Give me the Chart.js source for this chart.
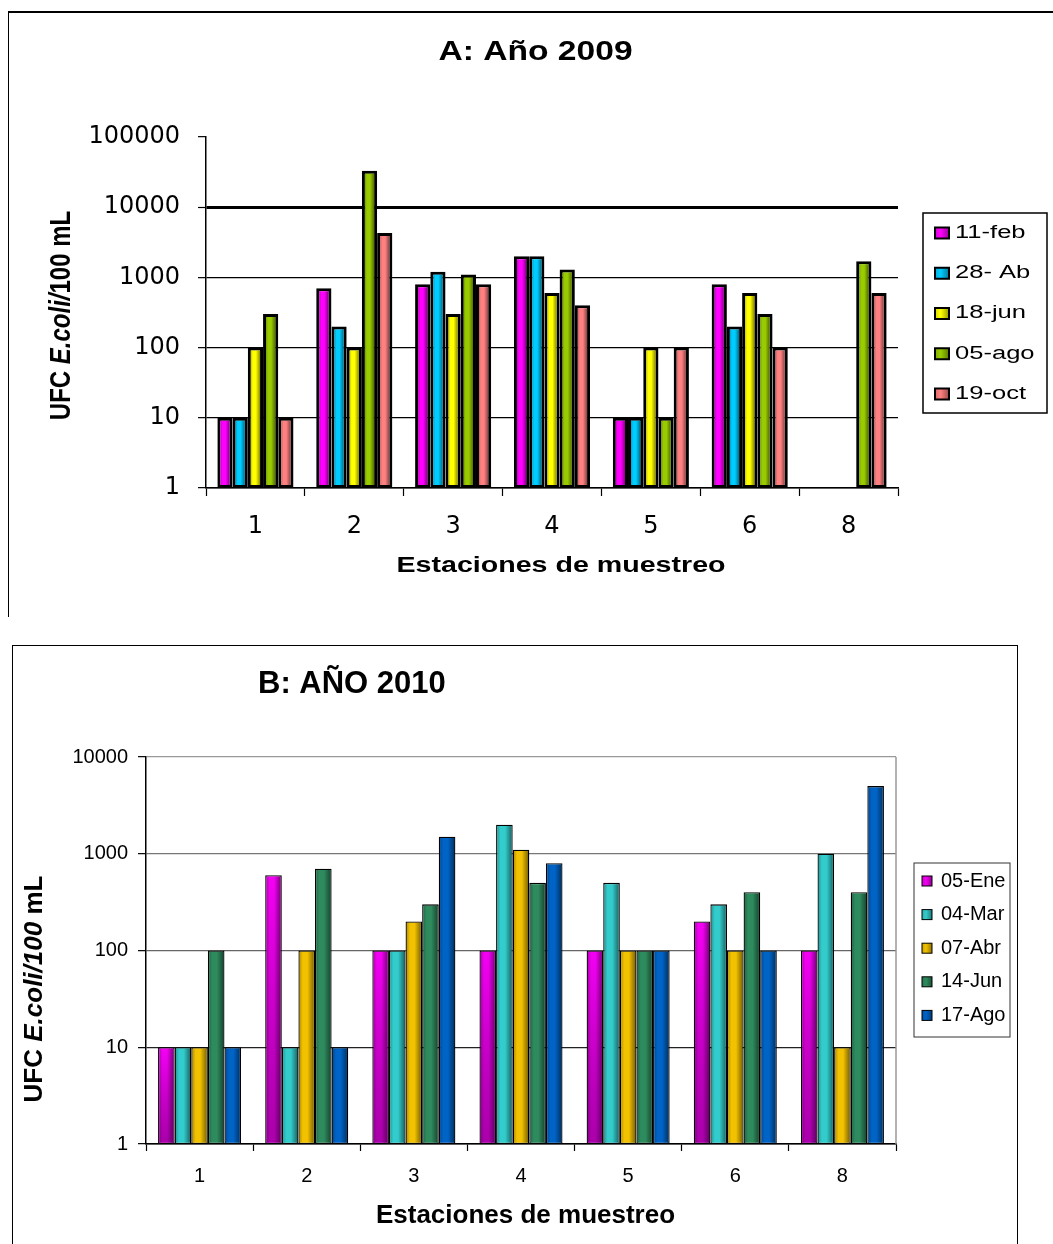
<!DOCTYPE html>
<html>
<head>
<meta charset="utf-8">
<script src="https://cdn.jsdelivr.net/npm/chart.js@4/dist/chart.umd.min.js"></script>
<style>
  html, body { margin: 0; padding: 0; background: #fff; }
  body { width: 1053px; height: 1244px; position: relative; overflow: hidden; }
  .frameA { position: absolute; left: 8px; top: 11px; width: 1045px; height: 606px;
            border-top: 2px solid #000; border-left: 1px solid #000; box-sizing: border-box; }
  .frameB { position: absolute; left: 12px; top: 645px; width: 1006px; height: 640px;
            border: 1px solid #000; box-sizing: border-box; }
  canvas { position: absolute; left: 0; }
  #chartA { top: 0; }
  #chartB { top: 620px; }
</style>
</head>
<body>
<div class="frameA"></div>
<div class="frameB"></div>
<canvas id="chartA" width="1053" height="620"></canvas>
<canvas id="chartB" width="1053" height="624"></canvas>
<script>
// Sampling stations (x categories) shared by both years
const stations = ['1', '2', '3', '4', '5', '6', '8'];

// Decade ticks of the logarithmic axes
const yTicks2009 = [1, 10, 100, 1000, 10000, 100000];
const yTicks2010 = [1, 10, 100, 1000, 10000];

// 2009 campaign: UFC E. coli / 100 mL per station
const labels2009 = ['11-feb', '28- Ab', '18-jun', '05-ago', '19-oct'];
const feb11_2009 = [10, 700, 800, 2000, 10, 800, null];
const abr28_2009 = [10, 200, 1200, 2000, 10, 200, null];
const jun18_2009 = [100, 100, 300, 600, 100, 600, null];
const ago05_2009 = [300, 33000, 1100, 1300, 10, 300, 1700];
const oct19_2009 = [10, 4300, 800, 400, 100, 100, 600];
const colors2009 = ['#FF00FF', '#00CCFF', '#FFFF00', '#99CC00', '#FF8080'];

// 2010 campaign
const labels2010 = ['05-Ene', '04-Mar', '07-Abr', '14-Jun', '17-Ago'];
const ene05_2010 = [10, 600, 100, 100, 100, 200, 100];
const mar04_2010 = [10, 10, 100, 2000, 500, 300, 1000];
const abr07_2010 = [10, 100, 200, 1100, 100, 100, 10];
const jun14_2010 = [100, 700, 300, 500, 100, 400, 400];
const ago17_2010 = [10, 10, 1500, 800, 100, 100, 5000];
const colors2010 = ['#F400F4', '#33CCCC', '#F2C200', '#2E8B5E', '#0063C6'];

Chart.defaults.font.family = "'Liberation Sans', Arial, sans-serif";
Chart.defaults.color = '#000';

// Draws a run of differently styled text pieces as one line
function drawRich(ctx, parts, cx, cy, o) {
  const opt = Object.assign({ align: 'center', rotate: 0, sx: 1, sy: 1, color: '#000' }, o || {});
  ctx.save();
  ctx.translate(cx, cy);
  ctx.rotate(opt.rotate);
  ctx.scale(opt.sx, opt.sy);
  ctx.textBaseline = 'middle';
  ctx.textAlign = 'left';
  ctx.fillStyle = opt.color;
  let total = 0;
  const widths = parts.map(p => { ctx.font = p.font; const w = ctx.measureText(p.text).width; total += w; return w; });
  let x = opt.align === 'center' ? -total / 2 : (opt.align === 'right' ? -total : 0);
  parts.forEach((p, k) => { ctx.font = p.font; ctx.fillText(p.text, x, 0); x += widths[k]; });
  ctx.restore();
}

// Cylinder-like shading over each bar, plus titles and the framed legend
const decorations = {
  id: 'decorations',
  afterDatasetsDraw(chart, args, o) {
    const ctx = chart.ctx;
    ctx.save();
    chart.data.datasets.forEach((ds, di) => {
      const meta = chart.getDatasetMeta(di);
      meta.data.forEach((el, i) => {
        if (ds.data[i] == null) return;
        const p = el.getProps(['x', 'y', 'base', 'width'], true);
        const bw = o.inset;
        const left = p.x - p.width / 2 + bw, right = p.x + p.width / 2 - bw;
        const top = Math.min(p.y, p.base) + bw, bottom = Math.max(p.y, p.base) - bw;
        if (right <= left || bottom <= top) return;
        const g = ctx.createLinearGradient(left, 0, right, 0);
        g.addColorStop(0, 'rgba(0,0,0,0.22)');
        g.addColorStop(0.22, 'rgba(0,0,0,0)');
        g.addColorStop(0.55, 'rgba(0,0,0,0)');
        g.addColorStop(1, 'rgba(0,0,0,0.45)');
        ctx.fillStyle = g;
        ctx.fillRect(left, top, right - left, bottom - top);
        if (o.verticalShade && o.verticalShade.indexOf(di) >= 0) {
          const v = ctx.createLinearGradient(0, top, 0, bottom);
          v.addColorStop(0, 'rgba(0,0,0,0)');
          v.addColorStop(1, 'rgba(60,0,60,0.4)');
          ctx.fillStyle = v;
          ctx.fillRect(left, top, right - left, bottom - top);
        }
      });
    });
    ctx.restore();
  },
  afterDraw(chart, args, o) {
    const ctx = chart.ctx;
    const area = chart.chartArea;
    if (o.plotFrame) {
      ctx.save();
      ctx.strokeStyle = o.plotFrame;
      ctx.lineWidth = 1.5;
      ctx.beginPath();
      ctx.moveTo(area.right, area.top);
      ctx.lineTo(area.right, area.bottom);
      ctx.stroke();
      ctx.restore();
    }
    // chart title
    const t = o.title;
    drawRich(ctx, [{ text: t.text, font: t.font }], t.x, t.y, { align: t.align, sx: t.sx });
    // axis titles
    const xt = o.xTitle;
    drawRich(ctx, [{ text: xt.text, font: xt.font }], xt.x, xt.y, { sx: xt.sx });
    const yt = o.yTitle;
    drawRich(ctx, yt.parts, yt.x, yt.y, { rotate: -Math.PI / 2, sy: yt.sy });
    // legend
    const L = o.legend;
    ctx.save();
    ctx.fillStyle = '#fff';
    ctx.fillRect(L.x, L.y, L.w, L.h);
    ctx.strokeStyle = L.border;
    ctx.lineWidth = L.lineWidth;
    ctx.strokeRect(L.x, L.y, L.w, L.h);
    chart.data.datasets.forEach((ds, i) => {
      const cy = L.firstRow + i * L.step;
      const sx0 = L.swatchX, sy0 = cy - L.swatchH / 2;
      ctx.fillStyle = ds.backgroundColor;
      ctx.fillRect(sx0, sy0, L.swatchW, L.swatchH);
      const g = ctx.createLinearGradient(sx0, 0, sx0 + L.swatchW, 0);
      g.addColorStop(0, 'rgba(0,0,0,0.15)');
      g.addColorStop(0.4, 'rgba(0,0,0,0)');
      g.addColorStop(1, 'rgba(0,0,0,0.4)');
      ctx.fillStyle = g;
      ctx.fillRect(sx0, sy0, L.swatchW, L.swatchH);
      ctx.strokeStyle = '#000';
      ctx.lineWidth = L.swatchBorder;
      ctx.strokeRect(sx0, sy0, L.swatchW, L.swatchH);
      drawRich(ctx, [{ text: ds.label, font: L.font }], L.textX, cy, { align: 'left', sx: L.sx });
    });
    ctx.restore();
  }
};

function buildChart(id, cfg) {
  const datasets = cfg.series.map(s => ({
    label: s.label,
    data: s.data,
    backgroundColor: s.color,
    borderColor: '#000',
    borderWidth: cfg.barBorder,
    borderSkipped: false,
    categoryPercentage: cfg.catPct,
    barPercentage: 1
  }));
  return new Chart(document.getElementById(id), {
    type: 'bar',
    data: { labels: stations, datasets },
    plugins: [decorations],
    options: {
      responsive: false,
      animation: false,
      layout: { padding: cfg.padding },
      plugins: {
        legend: { display: false },
        title: { display: false },
        tooltip: { enabled: false },
        decorations: cfg.deco
      },
      scales: {
        x: {
          type: 'category',
          offset: true,
          grid: { display: true, offset: true, drawOnChartArea: false, drawTicks: true,
                  tickLength: cfg.xTickLen, tickColor: '#000', tickWidth: 1.2 },
          border: { display: true, color: '#000', width: 1.5 },
          ticks: { color: '#000', font: cfg.tickFont, padding: cfg.xPad },
          afterFit: s => { s.height = cfg.xHeight; }
        },
        y: {
          type: 'logarithmic',
          min: cfg.yTicks[0],
          max: cfg.yTicks[cfg.yTicks.length - 1],
          afterBuildTicks: s => { s.ticks = cfg.yTicks.map(v => ({ value: v })); },
          ticks: { color: '#000', font: cfg.tickFont, padding: cfg.yPad, callback: v => String(v) },
          grid: {
            color: c => cfg.gridColor(c.tick ? c.tick.value : 0),
            lineWidth: c => cfg.gridWidth(c.tick ? c.tick.value : 0),
            drawTicks: true, tickLength: 8, tickColor: '#000', tickWidth: 1.2
          },
          border: { display: true, color: '#000', width: 1.5 },
          afterFit: s => { s.width = cfg.yWidth; }
        }
      }
    }
  });
}

// A: 2009
buildChart('chartA', {
  series: [
    { label: labels2009[0], data: feb11_2009, color: colors2009[0] },
    { label: labels2009[1], data: abr28_2009, color: colors2009[1] },
    { label: labels2009[2], data: jun18_2009, color: colors2009[2] },
    { label: labels2009[3], data: ago05_2009, color: colors2009[3] },
    { label: labels2009[4], data: oct19_2009, color: colors2009[4] }
  ],
  yTicks: yTicks2009,
  barBorder: 3,
  catPct: 0.77,
  padding: { top: 137, right: 155, bottom: 72, left: 0 },
  yWidth: 206,
  xHeight: 60,
  xTickLen: 8,
  xPad: 16,
  yPad: 18,
  tickFont: { family: "'DejaVu Sans', sans-serif", size: 24 },
  gridColor: v => (v === 100000 ? 'rgba(0,0,0,0)' : '#000'),
  gridWidth: v => (v === 10000 ? 3 : 1.3),
  deco: {
    inset: 3,
    title: { text: 'A: Año 2009', font: "bold 28px 'Liberation Sans'", x: 535.5, y: 52, align: 'center', sx: 1.2 },
    xTitle: { text: 'Estaciones de muestreo', font: "bold 22px 'Liberation Sans'", x: 561, y: 566, sx: 1.3 },
    yTitle: {
      parts: [
        { text: 'UFC ', font: "bold 24px 'Liberation Sans'" },
        { text: 'E.coli/', font: "italic bold 24px 'Liberation Sans'" },
        { text: '100 mL', font: "bold 24px 'Liberation Sans'" }
      ],
      x: 62, y: 315.5, sy: 1.2
    },
    legend: {
      x: 923, y: 213, w: 124, h: 200, border: '#000', lineWidth: 1.5,
      firstRow: 233, step: 40.25,
      swatchX: 935, swatchW: 14, swatchH: 11, swatchBorder: 2,
      textX: 955, font: "18px 'Liberation Sans'", sx: 1.42
    }
  }
});

// B: 2010
buildChart('chartB', {
  series: [
    { label: labels2010[0], data: ene05_2010, color: colors2010[0] },
    { label: labels2010[1], data: mar04_2010, color: colors2010[1] },
    { label: labels2010[2], data: abr07_2010, color: colors2010[2] },
    { label: labels2010[3], data: jun14_2010, color: colors2010[3] },
    { label: labels2010[4], data: ago17_2010, color: colors2010[4] }
  ],
  yTicks: yTicks2010,
  barBorder: 1.3,
  catPct: 0.775,
  padding: { top: 137, right: 157, bottom: 50, left: 0 },
  yWidth: 146,
  xHeight: 50,
  xTickLen: 7,
  xPad: 13,
  yPad: 10,
  tickFont: { family: "'Liberation Sans', sans-serif", size: 20 },
  gridColor: v => ({ 10000: '#999', 1000: '#777', 100: '#666', 10: '#222' }[v] || '#000'),
  gridWidth: v => 1.3,
  deco: {
    inset: 1.3,
    verticalShade: [0],
    plotFrame: '#999',
    title: { text: 'B: AÑO 2010', font: "bold 31px 'Liberation Sans'", x: 258, y: 64, align: 'left', sx: 1 },
    xTitle: { text: 'Estaciones de muestreo', font: "bold 26px 'Liberation Sans'", x: 525.5, y: 596, sx: 1 },
    yTitle: {
      parts: [
        { text: 'UFC ', font: "bold 26px 'Liberation Sans'" },
        { text: 'E.coli/100', font: "italic bold 26px 'Liberation Sans'" },
        { text: ' mL', font: "bold 26px 'Liberation Sans'" }
      ],
      x: 35, y: 369, sy: 1
    },
    legend: {
      x: 914, y: 243, w: 96, h: 174, border: '#333', lineWidth: 1,
      firstRow: 261, step: 33.6,
      swatchX: 922, swatchW: 10, swatchH: 10, swatchBorder: 1,
      textX: 941, font: "20px 'Liberation Sans'", sx: 1
    }
  }
});
</script>
</body>
</html>
